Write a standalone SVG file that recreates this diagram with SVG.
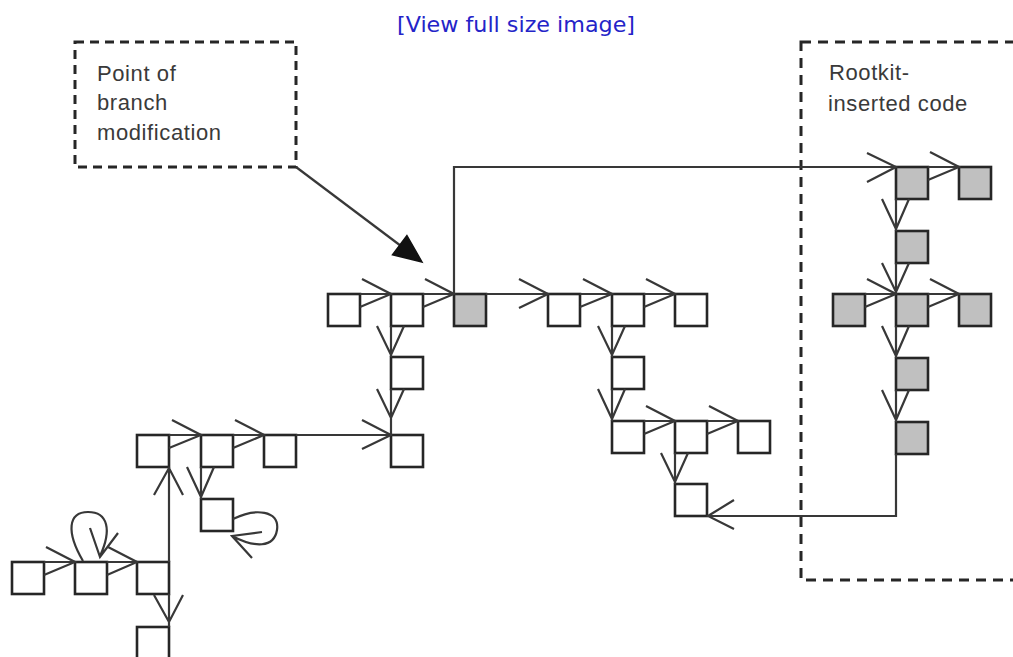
<svg xmlns="http://www.w3.org/2000/svg" width="1013" height="657" viewBox="0 0 1013 657">
<style>
.n rect{fill:#fff;stroke:#262626;stroke-width:2.6}
.g rect{fill:#c0c0c0;stroke:#262626;stroke-width:2.6}
#connectors path{fill:none;stroke:#383838;stroke-width:2.2;stroke-linejoin:miter}
.lbl{font-family:"Liberation Sans",Arial,sans-serif;font-size:22px;fill:#3a3a3a;letter-spacing:0.6px}
.dash{fill:none;stroke:#262626;stroke-width:3}
</style>
<rect width="1013" height="657" fill="#fff"/>
<text x="397" y="32" font-family="DejaVu Sans,Verdana,sans-serif" font-size="20.5" fill="#2424c8" textLength="238" lengthAdjust="spacingAndGlyphs">[View full size image]</text>

<g id="label-branch">
<rect class="dash" x="75" y="42" width="221" height="125" stroke-dasharray="9 6"/>
<text class="lbl" x="97" y="81">Point of</text>
<text class="lbl" x="97" y="110">branch</text>
<text class="lbl" x="97" y="140">modification</text>
</g>
<g id="label-rootkit">
<rect class="dash" x="801" y="42" width="240" height="538" stroke-dasharray="10 7"/>
<text class="lbl" x="829" y="80">Rootkit-</text>
<text class="lbl" x="828" y="111">inserted code</text>
</g>

<g id="n1" class="n"><rect x="12" y="562" width="32" height="32"/></g>
<g id="n2" class="n"><rect x="75" y="562" width="32" height="32"/></g>
<g id="n3" class="n"><rect x="137" y="562" width="32" height="32"/></g>
<g id="n4" class="n"><rect x="137" y="627" width="32" height="34"/></g>
<g id="n5" class="n"><rect x="137" y="435" width="32" height="32"/></g>
<g id="n6" class="n"><rect x="201" y="435" width="32" height="32"/></g>
<g id="n7" class="n"><rect x="264" y="435" width="32" height="32"/></g>
<g id="n8" class="n"><rect x="201" y="499" width="32" height="32"/></g>
<g id="n9" class="n"><rect x="391" y="435" width="32" height="32"/></g>
<g id="n10" class="n"><rect x="328" y="294" width="32" height="32"/></g>
<g id="n11" class="n"><rect x="391" y="294" width="32" height="32"/></g>
<g id="n12" class="g"><rect x="454" y="294" width="32" height="32"/></g>
<g id="n13" class="n"><rect x="391" y="357" width="32" height="32"/></g>
<g id="n14" class="n"><rect x="548" y="294" width="32" height="32"/></g>
<g id="n15" class="n"><rect x="612" y="294" width="32" height="32"/></g>
<g id="n16" class="n"><rect x="675" y="294" width="32" height="32"/></g>
<g id="n17" class="n"><rect x="612" y="357" width="32" height="32"/></g>
<g id="n18" class="n"><rect x="612" y="421" width="32" height="32"/></g>
<g id="n19" class="n"><rect x="675" y="421" width="32" height="32"/></g>
<g id="n20" class="n"><rect x="738" y="421" width="32" height="32"/></g>
<g id="n21" class="n"><rect x="675" y="484" width="32" height="32"/></g>
<g id="g1" class="g"><rect x="896" y="167" width="32" height="32"/></g>
<g id="g2" class="g"><rect x="959" y="167" width="32" height="32"/></g>
<g id="g3" class="g"><rect x="896" y="231" width="32" height="32"/></g>
<g id="g4" class="g"><rect x="833" y="294" width="32" height="32"/></g>
<g id="g5" class="g"><rect x="896" y="294" width="32" height="32"/></g>
<g id="g6" class="g"><rect x="959" y="294" width="32" height="32"/></g>
<g id="g7" class="g"><rect x="896" y="358" width="32" height="32"/></g>
<g id="g8" class="g"><rect x="896" y="422" width="32" height="32"/></g>

<g id="connectors">
<path d="M44 562H75M46 547L75 562L44 575"/>
<path d="M107 562H137M108 547L137 562L107 575"/>
<path d="M169 435H201M172 420L201 435L169 448"/>
<path d="M233 435H264M235 420L264 435L233 448"/>
<path d="M296 435H391M362 420L391 435L362 449"/>
<path d="M360 294H391M362 279L391 294L360 307"/>
<path d="M423 294H454M425 279L454 294L423 307"/>
<path d="M486 294H548M519 279L548 294L519 308"/>
<path d="M580 294H612M583 279L612 294L580 307"/>
<path d="M644 294H675M646 279L675 294L644 307"/>
<path d="M644 421H675M646 406L675 421L644 434"/>
<path d="M707 421H738M709 406L738 421L707 434"/>
<path d="M928 167H959M930 152L959 167L928 180"/>
<path d="M865 294H896M867 279L896 294L865 307"/>
<path d="M928 294H959M930 279L959 294L928 307"/>

<path d="M391 326V357M377 326L391 355L404 326"/>
<path d="M391 389V435M377 389L391 418L404 389"/>
<path d="M201 467V499M187 467L201 497L214 467"/>
<path d="M169 594V627M154 595L169 622L183 595"/>
<path d="M169 562V467M154 495L169 468L183 495"/>
<path d="M612 326V357M598 326L612 355L625 326"/>
<path d="M612 389V421M598 389L612 419L625 389"/>
<path d="M675 453V484M661 453L675 482L688 453"/>
<path d="M896 199V231M882 199L896 229L909 199"/>
<path d="M896 263V294M882 263L896 292L909 263"/>
<path d="M896 326V358M882 326L896 356L909 326"/>
<path d="M896 390V422M882 390L896 420L909 390"/>

<path d="M454 294V167H896M867 153L896 167L867 182"/>
<path d="M896 454V516H708M734 500L708 516L734 529"/>

<path d="M83 561C66 532 68 512 88 512C108 512 112 530 100 556M90 528L100 557L118 533"/>
<path d="M233 519C255 508 280 510 277 530C274 548 255 548 232 536M262 532L232 536L252 558"/>

<path d="M296 167L401 246"/>
<polygon points="422,262 392.5,254.7 406.9,235.5" fill="#111" stroke="#111" stroke-width="1.5"/>
</g>
</svg>
